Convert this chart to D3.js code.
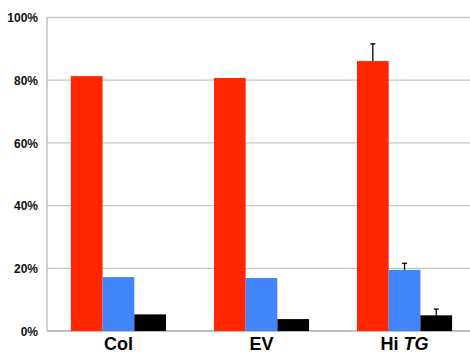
<!DOCTYPE html>
<html><head><meta charset="utf-8">
<script src="https://cdn.jsdelivr.net/npm/d3@7"></script>
<style>body{margin:0;background:#fff}svg{display:block}</style>
</head><body>
<svg id="chart" width="470" height="353"></svg>
<script>
const categories = ["Col", "EV", "Hi TG"];
const seriesNames = ["red", "blue", "black"];
const redValues = [0.813, 0.807, 0.861];
const blueValues = [0.172, 0.169, 0.195];
const blackValues = [0.053, 0.038, 0.050];
const redErrors = [null, null, 0.055];
const blueErrors = [null, null, 0.021];
const blackErrors = [null, null, 0.020];
const yTicks = [0, 0.2, 0.4, 0.6, 0.8, 1.0];
const colors = ["#ff2600", "#4285fb", "#000000"];

const svg = d3.select("#chart");
const margin = {left: 47, top: 17.5, right: -6, bottom: 22};
const W = 470, H = 353;
const x0 = 47, x1 = W - margin.right, yTop = 17.5, yBot = 331;

const x = d3.scaleBand().domain(categories).range([x0, x1]).paddingInner(0.335).paddingOuter(0.167);
const xs = d3.scaleBand().domain(seriesNames).range([0, x.bandwidth()]);
const y = d3.scaleLinear().domain([0, 1]).range([yBot, yTop]);

// gridlines
svg.append("g").selectAll("line").data(yTicks).join("line")
  .attr("x1", x0).attr("x2", W)
  .attr("y1", d => y(d)).attr("y2", d => y(d))
  .attr("stroke", d => d === 0 ? "#a8a8a8" : "#c4c4c4").attr("stroke-width", 1.3);

// y axis line
svg.append("line").attr("x1", x0).attr("x2", x0).attr("y1", yTop).attr("y2", yBot)
  .attr("stroke", "#b8b8b8").attr("stroke-width", 1.3);

// y tick labels
const yAxis = d3.axisLeft(y).tickValues(yTicks).tickFormat(d3.format(".0%")).tickSize(0).tickPadding(9);
const ya = svg.append("g").attr("transform", `translate(${x0},0)`).call(yAxis);
ya.select(".domain").remove();
ya.selectAll("text").attr("font-family", "Liberation Sans, Arial, sans-serif")
  .attr("font-weight", "bold").attr("font-size", 12).attr("fill", "#111").attr("dy", "0.35em");

const series = [redValues, blueValues, blackValues];
const errs = [redErrors, blueErrors, blackErrors];
const data = [];
categories.forEach((c, i) => seriesNames.forEach((s, j) =>
  data.push({c, s, v: series[j][i], e: errs[j][i], color: colors[j]})));

const bars = svg.append("g");
bars.selectAll("rect").data(data).join("rect")
  .attr("x", d => x(d.c) + xs(d.s))
  .attr("width", xs.bandwidth())
  .attr("y", d => y(d.v))
  .attr("height", d => y(0) - y(d.v))
  .attr("fill", d => d.color);

// error bars (upper only)
const eb = svg.append("g").attr("stroke", "#000").attr("stroke-width", 1.3);
data.filter(d => d.e != null).forEach(d => {
  const cx = x(d.c) + xs(d.s) + xs.bandwidth() / 2;
  eb.append("line").attr("x1", cx).attr("x2", cx).attr("y1", y(d.v)).attr("y2", y(d.v + d.e));
  eb.append("line").attr("x1", cx - 2.5).attr("x2", cx + 2.5).attr("y1", y(d.v + d.e)).attr("y2", y(d.v + d.e));
});

// category labels
const lab = svg.append("g").attr("font-family", "Liberation Sans, Arial, sans-serif")
  .attr("font-weight", "bold").attr("font-size", 18).attr("fill", "#000").attr("text-anchor", "middle");
categories.forEach(c => {
  const t = lab.append("text").attr("x", x(c) + x.bandwidth() / 2).attr("y", 350);
  if (c === "Hi TG") {
    t.append("tspan").text("Hi ");
    t.append("tspan").attr("font-style", "italic").text("TG");
  } else t.text(c);
});
</script>
</body></html>
